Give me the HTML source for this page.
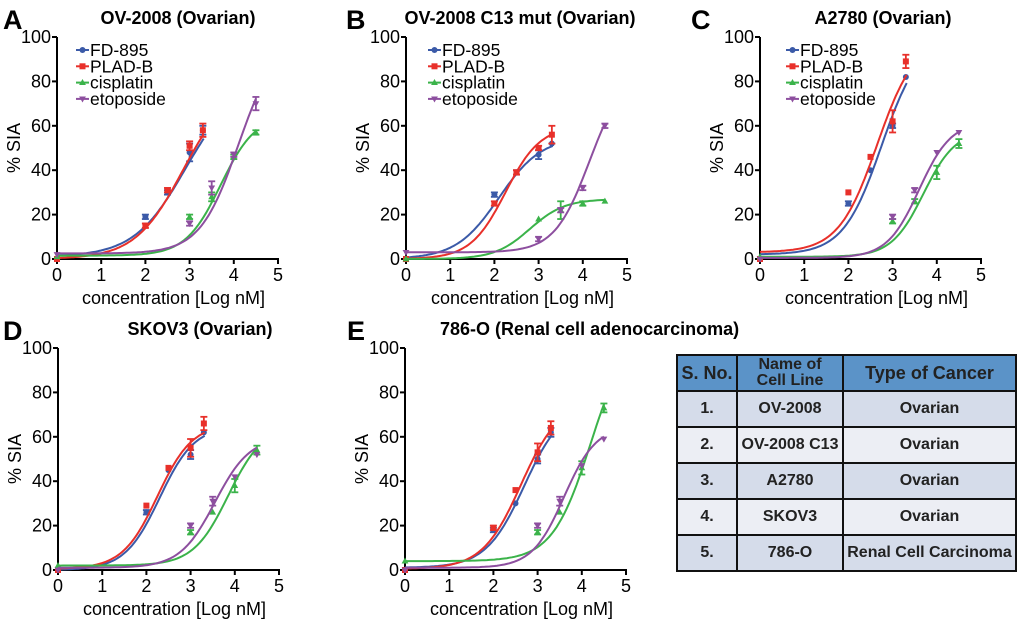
<!DOCTYPE html>
<html><head><meta charset="utf-8"><style>
body{margin:0;background:#fff;width:1020px;height:619px;overflow:hidden;font-family:"Liberation Sans",sans-serif}
#wrap{position:relative;width:1020px;height:619px}
svg{position:absolute;left:0;top:0}
table{position:absolute;left:676px;top:354px;width:341px;height:218px;border-collapse:collapse;font-family:"Liberation Sans",sans-serif;font-weight:bold;font-size:16px;color:#222}
td,th{border:2px solid #111;text-align:center;padding:0}
th{background:#5b93c8;font-size:16px;line-height:16px}
th.s{font-size:18px}
tr.o td{background:#d5dcea}tr.e td{background:#eceef4}
</style></head><body><div id="wrap">
<svg id="svg" width="1020" height="619"></svg>
<table>
<tr style="height:36px"><th class="s" style="width:58px">S. No.</th><th style="width:104px">Name of<br>Cell Line</th><th class="s">Type of Cancer</th></tr>
<tr class="o"><td>1.</td><td>OV-2008</td><td>Ovarian</td></tr>
<tr class="e"><td>2.</td><td>OV-2008 C13</td><td>Ovarian</td></tr>
<tr class="o"><td>3.</td><td>A2780</td><td>Ovarian</td></tr>
<tr class="e"><td>4.</td><td>SKOV3</td><td>Ovarian</td></tr>
<tr class="o"><td>5.</td><td>786-O</td><td>Renal Cell Carcinoma</td></tr>
</table></div>
<script>
const seriesNames=["FD-895","PLAD-B","cisplatin","etoposide"];
const seriesColors=["#3b5aa8","#e8302a","#3bb34a","#8d4f9f"];
const xTicks=[0,1,2,3,4,5];
const yTicks=[0,20,40,60,80,100];
const xFD=[0,2,2.5,3,3.3];
const xCI=[0,3,3.5,4,4.5];
// panel A
const aFD=[0,19,30,48,58], aPL=[0,15,31,51,58], aCI=[1,19,28,46,57], aET=[2,16,32,47,70];
const aErr=[[0,1,1,4,2],[0,1,1,2,3],[0,1,2,1,1],[0,1,3,1,3]];
const aFit=[[1,80,2.9,0.75],[0,80,2.85,0.8],[1.5,65,3.7,1.1],[2.5,100,4.1,1.0]];
// panel B
const bFD=[0,29,39,47,52], bPL=[0,25,39,50,56], bCI=[0,18,22,25,26], bET=[3,9,22,32,60];
const bErr=[[0,1,1,2,0],[0,1,1,1,4],[0,0,4,1,0],[0,1,1,1,1]];
const bFit=[[0,55,2.1,0.9],[0,60,2.25,1.1],[0,27,2.8,1.1],[3,85,4.15,1.1]];
// panel C
const cFD=[0,25,40,60,82], cPL=[0,30,46,62,89], cCI=[1,17,26,39,52], cET=[0,19,31,48,57];
const cErr=[[0,1,0,1,0],[0,0,0,5,3],[0,1,1,3,2],[0,1,1,0,0]];
const cFit=[[2,100,2.75,1.0],[3,100,2.65,1.0],[1,58,3.7,1.2],[0.5,62,3.6,1.2]];
// panel D
const dFD=[0,26,45,52,62], dPL=[0,29,46,55,66], dCI=[2,17,26,38,54], dET=[0,20,31,42,52];
const dErr=[[0,1,0,2,0],[0,0,0,4,3],[0,1,0,3,2],[0,1,2,0,0]];
const dFit=[[0,65,2.3,1.1],[0.5,66,2.25,1.1],[2,65,3.85,1.1],[1,60,3.55,1.1]];
// panel E
const eFD=[0,18,30,50,62], ePL=[0,19,36,53,64], eCI=[4,17,26,46,73], eET=[0,20,31,47,59];
const eErr=[[0,1,0,2,2],[0,1,0,4,3],[0,1,0,3,2],[0,1,2,0,0]];
const eFit=[[1,75,2.7,1.0],[0.5,76,2.62,1.0],[4,110,4.2,1.0],[1,65,3.6,1.2]];

const NS="http://www.w3.org/2000/svg";
const svg=document.getElementById('svg');
function mk(tag,at,parent){const e=document.createElementNS(NS,tag);for(const k in at)e.setAttribute(k,at[k]);(parent||svg).appendChild(e);return e;}
function logistic(p,x){return p[0]+(p[1]-p[0])/(1+Math.pow(10,(p[2]-x)*p[3]));}
function marker(g,k,x,y,c){
  if(k===0)return mk('circle',{cx:x,cy:y,r:3,fill:c},g);
  if(k===1)return mk('rect',{x:x-3,y:y-3,width:6,height:6,fill:c},g);
  if(k===2)return mk('polygon',{points:`${x},${y-3.6} ${x-3.4},${y+2.4} ${x+3.4},${y+2.4}`,fill:c},g);
  return mk('polygon',{points:`${x},${y+3.6} ${x-3.4},${y-2.4} ${x+3.4},${y-2.4}`,fill:c},g);
}
function panel(o){
  const g=mk('g',{});
  
  
  const X=v=>o.x0+v*44.2, Y=v=>o.y0-v*2.22;
  const t=mk('text',{x:o.lx,y:o.y0-230,'font-size':27,'font-weight':'bold'},g);t.textContent=o.id.toUpperCase();
  
  const tt=mk('text',{x:o.tx,y:o.y0-235,'font-size':18,'font-weight':'bold','text-anchor':o.ta||'middle'},g);tt.textContent=o.title;
  
  mk('line',{x1:X(0),y1:Y(0)+1,x2:X(0),y2:Y(100),stroke:'#000','stroke-width':2},g);
  mk('line',{x1:X(0)-1,y1:Y(0),x2:X(5)+1,y2:Y(0),stroke:'#000','stroke-width':2},g);
  yTicks.forEach(v=>{mk('line',{x1:X(0)-5,y1:Y(v),x2:X(0),y2:Y(v),stroke:'#000','stroke-width':2},g);
    const l=mk('text',{x:X(0)-6,y:Y(v)+6,'font-size':18,'text-anchor':'end'},g);l.textContent=v;
    });
  xTicks.forEach(v=>{mk('line',{x1:X(v),y1:Y(0),x2:X(v),y2:Y(0)+5,stroke:'#000','stroke-width':2},g);
    const l=mk('text',{x:X(v),y:Y(0)+22,'font-size':18,'text-anchor':'middle'},g);l.textContent=v;
    });
  const yl=mk('text',{transform:`translate(${X(0)-37},${Y(50)}) rotate(-90)`,'font-size':18,'text-anchor':'middle'},g);yl.textContent='% SIA';
  
  const xl=mk('text',{x:X(2.5)+6,y:Y(0)+45,'font-size':18,'text-anchor':'middle'},g);xl.textContent='concentration [Log nM]';
  
  o.series.forEach((ys,k)=>{
    const xs=k<2?xFD:xCI, c=seriesColors[k], p=o.fit[k], xe=k<2?3.32:4.5;
    let d='';for(let i=0;i<=80;i++){const xv=xe*i/80;d+=(i?'L':'M')+X(xv).toFixed(1)+','+Y(logistic(p,xv)).toFixed(1);}
    const path=mk('path',{d,fill:'none',stroke:c,'stroke-width':2},g);
    
    ys.forEach((v,i)=>{const e=o.err[k][i];
      if(e>0){mk('line',{x1:X(xs[i]),y1:Y(v-e),x2:X(xs[i]),y2:Y(v+e),stroke:c,'stroke-width':1.8},g);
        [v-e,v+e].forEach(w=>mk('line',{x1:X(xs[i])-3.5,y1:Y(w),x2:X(xs[i])+3.5,y2:Y(w),stroke:c,'stroke-width':1.8},g));}
      const m=marker(g,k,X(xs[i]),Y(v),c);
      });
  });
  if(o.legend){seriesNames.forEach((n,k)=>{const yy=o.y0-209+k*16.3;
    const lg=mk('g',{},g);
    mk('line',{x1:o.legend-13,y1:yy,x2:o.legend,y2:yy,stroke:seriesColors[k],'stroke-width':2},lg);
    marker(lg,k,o.legend-6.5,yy,seriesColors[k]);
    const tx=mk('text',{x:o.legend+1,y:yy+6,'font-size':17.5},lg);tx.textContent=n;});}
}
panel({id:'a',x0:57,y0:259,lx:3,tx:178,title:'OV-2008 (Ovarian)',series:[aFD,aPL,aCI,aET],err:aErr,fit:aFit,legend:89});
panel({id:'b',x0:406,y0:259,lx:346,tx:520,title:'OV-2008 C13 mut (Ovarian)',series:[bFD,bPL,bCI,bET],err:bErr,fit:bFit,legend:441});
panel({id:'c',x0:760,y0:259,lx:691,tx:883,title:'A2780  (Ovarian)',series:[cFD,cPL,cCI,cET],err:cErr,fit:cFit,legend:799});
panel({id:'d',x0:58,y0:570,lx:3,tx:200,title:'SKOV3 (Ovarian)',series:[dFD,dPL,dCI,dET],err:dErr,fit:dFit});
panel({id:'e',x0:405,y0:570,lx:347,tx:440,ta:'start',title:'786-O (Renal cell adenocarcinoma)',series:[eFD,ePL,eCI,eET],err:eErr,fit:eFit});
</script></body></html>
